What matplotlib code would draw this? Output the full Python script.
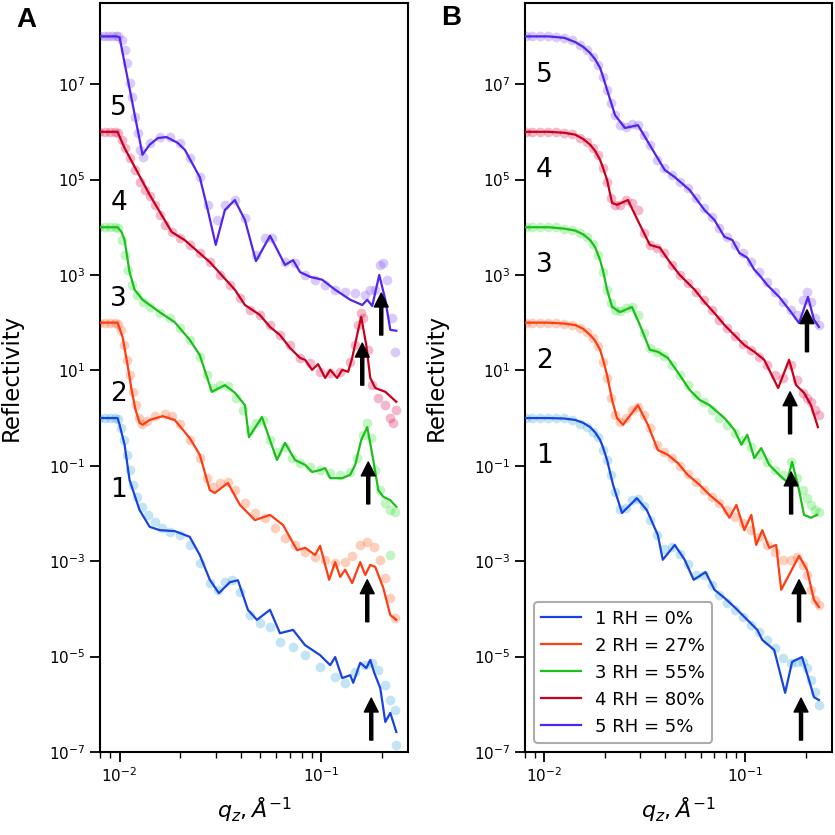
import numpy as np
import matplotlib
matplotlib.use('Agg')
import matplotlib.pyplot as plt
from matplotlib.ticker import NullLocator, NullFormatter

# Reflectivity curves, stored as log10(R) before the vertical offsets.
# Curves 1..5 are shifted by 10^0, 10^2, 10^4, 10^6, 10^8.
OFFSETS = [1e0, 1e2, 1e4, 1e6, 1e8]
LABELS = ['1 RH = 0%', '2 RH = 27%', '3 RH = 55%', '4 RH = 80%', '5 RH = 5%']
LINE_COLORS = ['#1744e0', '#ff3c12', '#1cbf1c', '#c8001c', '#5224ee']
DATA_COLORS = ['#45aee0', '#ff6a35', '#3fe03f', '#e2205e', '#8a5cf2']

# ---------------- panel A: measured data ----------------
A1_q = [0.00795, 0.00842, 0.00892, 0.00944, 0.00977, 0.01012, 0.01047, 0.01083, 0.01121, 0.01161,
        0.01215, 0.01287, 0.01378, 0.01493, 0.01618, 0.01773, 0.01988, 0.02229, 0.0250, 0.02804,
        0.03074, 0.03331, 0.03608, 0.03954, 0.04435, 0.04970, 0.05576, 0.06251, 0.07256, 0.08325,
        0.09886, 0.1174, 0.1316, 0.1476, 0.1655, 0.1793, 0.1921, 0.2082, 0.2204, 0.2334, 0.2361]
A1_r = [0, 0, 0, 0, -0.02, -0.21, -0.46, -0.77, -1.09, -1.40,
        -1.65, -1.86, -2.03, -2.18, -2.30, -2.39, -2.45, -2.66, -3.04, -3.46,
        -3.60, -3.44, -3.39, -3.65, -4.13, -4.30, -4.38, -4.69, -4.80, -4.97,
        -5.22, -5.43, -5.55, -5.32, -5.18, -5.13, -5.28, -5.60, -5.91, -6.12, -6.85]

A2_q = [0.00795, 0.00842, 0.00892, 0.00944, 0.00977, 0.01012, 0.01047, 0.01083, 0.01121, 0.01161,
        0.01201, 0.01243, 0.01287, 0.01362, 0.01493, 0.01674, 0.01814, 0.01988, 0.02229, 0.0250,
        0.0271, 0.0290, 0.03145, 0.03446, 0.03733, 0.04187, 0.04694, 0.0527, 0.0590, 0.0662,
        0.07424, 0.08325, 0.09336, 0.1047, 0.1174, 0.1316, 0.1426, 0.1563, 0.1694, 0.1835,
        0.1965, 0.2082, 0.2204, 0.2334]
A2_r = [0, 0, 0, 0, -0.03, -0.15, -0.47, -0.78, -1.10, -1.45,
        -1.73, -2.00, -2.12, -2.06, -1.96, -1.91, -1.96, -2.12, -2.46, -2.84,
        -3.26, -3.44, -3.36, -3.34, -3.51, -3.78, -3.99, -4.09, -4.30, -4.51,
        -4.66, -4.81, -4.91, -4.97, -5.04, -5.02, -4.89, -4.66, -4.60, -4.70,
        -4.97, -5.35, -5.77, -6.19]

A3_q = [0.00795, 0.00842, 0.00892, 0.00944, 0.00977, 0.01023, 0.01059, 0.01096, 0.01147, 0.01215,
        0.01301, 0.01410, 0.01581, 0.01773, 0.01988, 0.02229, 0.0250, 0.0271, 0.0290, 0.03145,
        0.03446, 0.03777, 0.0409, 0.04435, 0.04749, 0.0514, 0.05576, 0.06040, 0.0662, 0.0717,
        0.07861, 0.08817, 0.09886, 0.1109, 0.1243, 0.1394, 0.1510, 0.1618, 0.1694, 0.1773,
        0.1856, 0.1965, 0.2082, 0.2204, 0.2334, 0.2204]
A3_r = [0, 0, 0, 0, -0.02, -0.27, -0.58, -0.90, -1.21, -1.42,
        -1.57, -1.67, -1.80, -1.90, -2.11, -2.36, -2.72, -3.10, -3.37, -3.31,
        -3.33, -3.58, -3.83, -4.25, -4.10, -4.04, -4.46, -4.71, -4.61, -4.84,
        -4.94, -5.03, -5.09, -5.15, -5.19, -5.13, -4.84, -4.35, -4.10, -4.42,
        -5.09, -5.51, -5.78, -5.93, -5.97, -6.87]

A4_q = [0.00795, 0.00842, 0.00892, 0.00944, 0.00977, 0.01023, 0.01059, 0.01121, 0.01187, 0.01257,
        0.01332, 0.01410, 0.01493, 0.01581, 0.01674, 0.01814, 0.01988, 0.02229, 0.0250, 0.02804,
        0.03145, 0.03527, 0.03954, 0.04435, 0.04970, 0.05576, 0.06251, 0.07010, 0.07861, 0.08817,
        0.09886, 0.1109, 0.1243, 0.1394, 0.1476, 0.1528, 0.1581, 0.1618, 0.1713, 0.1793,
        0.1921, 0.2082, 0.2204, 0.2282, 0.2361]
A4_r = [0, 0, 0, 0, -0.02, -0.17, -0.34, -0.55, -0.80, -1.05,
        -1.22, -1.34, -1.53, -1.74, -1.95, -2.10, -2.22, -2.37, -2.54, -2.73,
        -3.00, -3.21, -3.48, -3.73, -3.84, -4.05, -4.26, -4.47, -4.74, -4.84,
        -5.03, -5.05, -5.03, -4.82, -4.47, -4.05, -3.80, -3.90, -4.57, -5.31,
        -5.58, -5.73, -6.00, -6.10, -5.83]

A5_q = [0.00795, 0.00833, 0.00872, 0.00912, 0.00955, 0.00977, 0.01023, 0.01059, 0.01083, 0.01121,
        0.01147, 0.01187, 0.01229, 0.01257, 0.01301, 0.01410, 0.01581, 0.01773, 0.01988, 0.02229,
        0.0250, 0.0274, 0.0304, 0.0333, 0.0373, 0.0419, 0.0475, 0.0527, 0.0571, 0.0662,
        0.0742, 0.0833, 0.0934, 0.1047, 0.1174, 0.1316, 0.1476, 0.1655, 0.1753, 0.1856,
        0.1965, 0.2034, 0.2130, 0.2255, 0.2334]
A5_r = [0, 0, 0, 0, 0, 0, -0.07, -0.28, -0.56, -0.97,
        -1.27, -1.69, -2.02, -2.38, -2.53, -2.23, -2.11, -2.11, -2.23, -2.55,
        -2.95, -3.53, -3.85, -3.53, -3.43, -3.81, -4.58, -4.22, -4.22, -4.73,
        -4.75, -5.00, -5.10, -5.21, -5.31, -5.36, -5.38, -5.42, -5.31, -5.31,
        -4.79, -4.75, -5.10, -5.90, -6.61]

# ---------------- panel A: model fits ----------------
A1_fit_q = [0.00795, 0.00977, 0.0100, 0.01059, 0.01121, 0.01257, 0.01410, 0.01581, 0.01877, 0.02229,
            0.0250, 0.02804, 0.03109, 0.03527, 0.03865, 0.04333, 0.04804, 0.05576, 0.06251, 0.07256,
            0.08325, 0.09886, 0.1109, 0.1174, 0.1272, 0.1394, 0.1443, 0.1563, 0.1675, 0.1753,
            0.1835, 0.1965, 0.2082, 0.2204, 0.2361]
A1_fit_r = [0, 0, -0.14, -0.56, -1.30, -1.93, -2.28, -2.35, -2.37, -2.49,
            -2.87, -3.39, -3.67, -3.44, -3.40, -4.02, -4.23, -4.02, -4.51, -4.44,
            -4.76, -4.97, -5.18, -5.01, -5.45, -5.39, -5.55, -5.13, -5.24, -5.07,
            -5.34, -5.66, -6.37, -6.18, -6.58]

A2_fit_q = [0.00795, 0.00977, 0.01035, 0.01096, 0.01147, 0.01201, 0.01257, 0.01301, 0.01410, 0.01636,
            0.01877, 0.02229, 0.0250, 0.02804, 0.0297, 0.03446, 0.03954, 0.04694, 0.05576, 0.06469,
            0.07597, 0.08325, 0.09336, 0.09886, 0.1096, 0.1174, 0.1243, 0.1316, 0.1426, 0.1563,
            0.1655, 0.1753, 0.1856, 0.2034, 0.2204, 0.2361]
A2_fit_r = [0, 0, -0.30, -0.89, -1.41, -1.83, -2.10, -2.14, -2.04, -1.96,
            -2.04, -2.42, -2.77, -3.51, -3.57, -3.36, -3.82, -4.14, -4.03, -4.24,
            -4.77, -4.72, -4.87, -4.68, -5.39, -5.02, -5.33, -5.18, -5.46, -5.02,
            -5.29, -5.08, -5.12, -5.56, -6.13, -6.23]

A3_fit_q = [0.00795, 0.00977, 0.01023, 0.01059, 0.01121, 0.01187, 0.01301, 0.01581, 0.01877, 0.02229,
            0.0250, 0.02869, 0.03331, 0.03733, 0.04187, 0.04384, 0.05086, 0.06040, 0.0662, 0.07424,
            0.08325, 0.0902, 0.09886, 0.1047, 0.1109, 0.1272, 0.1394, 0.1476, 0.1581, 0.1694,
            0.1814, 0.1921, 0.2034, 0.2204, 0.2361]
A3_fit_r = [0, 0, -0.10, -0.27, -0.94, -1.31, -1.52, -1.78, -1.99, -2.36,
            -2.68, -3.45, -3.31, -3.47, -3.73, -4.40, -3.98, -4.88, -4.52, -4.88,
            -4.98, -5.13, -5.09, -5.05, -5.26, -5.26, -5.19, -4.98, -4.46, -4.19,
            -4.88, -5.51, -5.65, -5.72, -5.86]

A4_fit_q = [0.00795, 0.00977, 0.01059, 0.01410, 0.01814, 0.02105, 0.02804, 0.03733, 0.04187, 0.04970,
            0.05576, 0.06251, 0.07010, 0.07861, 0.08325, 0.0902, 0.0966, 0.1047, 0.1109, 0.1201,
            0.1272, 0.1362, 0.1426, 0.1528, 0.1581, 0.1675, 0.1753, 0.1856, 0.2082, 0.2361]
A4_fit_r = [0, 0, -0.34, -1.32, -2.10, -2.27, -2.73, -3.31, -3.63, -3.84,
            -4.09, -4.26, -4.53, -4.74, -4.78, -4.99, -4.87, -5.16, -4.99, -5.16,
            -4.99, -5.03, -4.74, -4.15, -3.88, -4.47, -5.16, -5.37, -5.45, -5.66]

A5_fit_q = [0.00795, 0.0097, 0.0100, 0.0130, 0.0141, 0.0155, 0.0171, 0.0194, 0.0211, 0.0250,
            0.0274, 0.0300, 0.0333, 0.0373, 0.0419, 0.0475, 0.0558, 0.0662, 0.0726, 0.0786,
            0.0882, 0.1012, 0.1174, 0.1394, 0.1600, 0.1694, 0.1793, 0.1943, 0.2082, 0.2204, 0.2361]
A5_fit_r = [0, 0, -0.02, -2.48, -2.27, -2.13, -2.11, -2.23, -2.38, -2.95,
            -3.64, -4.37, -3.64, -3.43, -3.85, -4.71, -4.18, -4.79, -4.69, -4.94,
            -5.04, -5.10, -5.31, -5.52, -5.63, -5.52, -5.65, -5.00, -5.52, -6.15, -6.17]

# ---------------- panel B: measured data (common q grid) ----------------
B_q = [0.00805, 0.00872, 0.00955, 0.01047, 0.01147, 0.01256, 0.01375, 0.01508, 0.01633, 0.01748,
       0.01851, 0.01959, 0.0205, 0.02147, 0.02246, 0.02378, 0.02546, 0.02726, 0.0292, 0.03126,
       0.03348, 0.03625, 0.03926, 0.04302, 0.04714, 0.05163, 0.05655, 0.06194, 0.06787, 0.07435,
       0.08144, 0.08924, 0.09775, 0.1071, 0.1173, 0.1285, 0.1408, 0.1542, 0.1690, 0.1809,
       0.1937, 0.2027, 0.2122, 0.2221, 0.2324]
B1_r = [0, 0, 0, 0, 0, 0, -0.04, -0.12, -0.19, -0.29,
        -0.40, -0.67, -0.88, -1.19, -1.55, -1.90, -1.88, -1.72, -1.70, -1.85,
        -2.14, -2.45, -2.75, -2.70, -2.85, -3.05, -3.30, -3.30, -3.50, -3.70,
        -3.88, -4.02, -4.17, -4.34, -4.48, -4.65, -4.82, -5.03, -5.13, -5.11,
        -5.11, -5.24, -5.49, -5.74, -6.01]
B2_r = [0, 0, 0, 0, 0, -0.03, -0.05, -0.11, -0.19, -0.32,
        -0.49, -0.82, -1.16, -1.58, -1.93, -2.08, -2.00, -1.83, -1.77, -1.93,
        -2.21, -2.56, -2.71, -2.84, -3.00, -3.17, -3.34, -3.51, -3.65, -3.78,
        -3.93, -4.07, -4.20, -4.35, -4.49, -4.66, -4.81, -4.97, -4.97, -4.91,
        -5.08, -5.29, -5.60, -5.81, -5.92]
B3_r = [0, 0, 0, 0, 0, -0.04, -0.06, -0.12, -0.20, -0.35,
        -0.58, -0.94, -1.31, -1.59, -1.73, -1.75, -1.69, -1.67, -1.84, -2.22,
        -2.53, -2.61, -2.70, -2.89, -3.10, -3.31, -3.52, -3.66, -3.83, -4.00,
        -4.14, -4.31, -4.46, -4.61, -4.77, -4.92, -5.09, -5.19, -4.92, -5.26,
        -5.51, -5.68, -5.82, -5.93, -5.97]
B4_r = [0, 0, 0, 0, 0, -0.02, -0.04, -0.13, -0.21, -0.34,
        -0.48, -0.76, -1.05, -1.39, -1.53, -1.53, -1.43, -1.49, -1.64, -2.12,
        -2.37, -2.43, -2.54, -2.79, -3.00, -3.17, -3.36, -3.52, -3.73, -3.94,
        -4.11, -4.28, -4.45, -4.57, -4.72, -4.89, -5.10, -5.16, -4.89, -5.20,
        -5.47, -5.58, -5.66, -5.83, -5.93]
B5_r = [0, 0, 0, 0, -0.01, -0.03, -0.07, -0.18, -0.28, -0.43,
        -0.60, -0.85, -1.12, -1.39, -1.65, -1.86, -1.90, -1.84, -1.86, -2.07,
        -2.28, -2.59, -2.76, -2.90, -3.05, -3.18, -3.39, -3.60, -3.78, -4.01,
        -4.20, -4.37, -4.54, -4.73, -4.94, -5.15, -5.36, -5.57, -5.73, -5.84,
        -5.52, -5.36, -5.57, -5.90, -6.05]

# ---------------- panel B: model fits ----------------
B1_fit_q = [0.00805, 0.01047, 0.01256, 0.01424, 0.0156, 0.01689, 0.01788, 0.01893, 0.01959, 0.0205,
            0.02196, 0.02433, 0.02886, 0.03235, 0.03667, 0.03882, 0.04453, 0.04989, 0.0553, 0.06339,
            0.07022, 0.0787, 0.08823, 0.1023, 0.1147, 0.1214, 0.1392, 0.1578, 0.1709, 0.1915,
            0.2074, 0.2196, 0.2324]
B1_fit_r = [0, 0, -0.01, -0.04, -0.10, -0.19, -0.30, -0.46, -0.62, -0.88,
            -1.40, -1.99, -1.68, -1.93, -2.45, -2.97, -2.66, -2.97, -3.39, -3.23,
            -3.60, -3.77, -3.96, -4.23, -4.44, -4.65, -4.86, -5.76, -5.11, -5.01,
            -5.49, -5.85, -5.91]

B2_fit_q = [0.00805, 0.01047, 0.01256, 0.01424, 0.0156, 0.01689, 0.01788, 0.01893, 0.01959, 0.0205,
            0.02171, 0.02298, 0.0246, 0.0292, 0.03272, 0.03667, 0.04111, 0.04607, 0.05163, 0.0592,
            0.06633, 0.07608, 0.08332, 0.09026, 0.09886, 0.1071, 0.1133, 0.1214, 0.1315, 0.1424,
            0.1508, 0.1851, 0.2027, 0.2196, 0.2324]
B2_fit_r = [0, 0, -0.02, -0.05, -0.13, -0.26, -0.38, -0.57, -0.78, -1.10,
            -1.62, -2.00, -2.14, -1.73, -2.14, -2.67, -2.77, -2.94, -3.19, -3.40,
            -3.61, -3.82, -4.09, -3.82, -4.35, -4.03, -4.66, -4.35, -4.72, -4.66,
            -5.60, -4.89, -5.18, -5.81, -5.96]

B3_fit_q = [0.00805, 0.01047, 0.01256, 0.01424, 0.0156, 0.01689, 0.01788, 0.01893, 0.01959, 0.0205,
            0.02171, 0.02378, 0.02726, 0.02987, 0.03348, 0.03667, 0.04111, 0.04714, 0.05282, 0.0592,
            0.06633, 0.0787, 0.08823, 0.09555, 0.1023, 0.1108, 0.1200, 0.1315, 0.1473, 0.1614,
            0.1709, 0.1851, 0.1959, 0.2122, 0.2273]
B3_fit_r = [0, 0, -0.03, -0.07, -0.15, -0.27, -0.42, -0.69, -0.92, -1.31,
            -1.67, -1.78, -1.67, -2.05, -2.57, -2.61, -2.74, -3.10, -3.41, -3.62,
            -3.73, -4.00, -4.25, -4.56, -4.35, -4.84, -4.63, -4.98, -5.19, -5.34,
            -4.92, -5.51, -6.03, -6.09, -6.03]

B4_fit_q = [0.00805, 0.01047, 0.01256, 0.01424, 0.0156, 0.01689, 0.01788, 0.01893, 0.01959, 0.0205,
            0.02171, 0.02298, 0.02604, 0.02987, 0.03348, 0.03752, 0.04206, 0.04714, 0.05591, 0.06266,
            0.07022, 0.0787, 0.08823, 0.09886, 0.1108, 0.1242, 0.1457, 0.1651, 0.1789, 0.1959,
            0.2122, 0.2298]
B4_fit_r = [0, 0, -0.02, -0.06, -0.15, -0.27, -0.40, -0.59, -0.76, -1.01,
            -1.49, -1.53, -1.43, -1.95, -2.37, -2.43, -2.73, -3.00, -3.31, -3.57,
            -3.80, -4.05, -4.26, -4.47, -4.61, -4.78, -5.37, -4.78, -5.31, -5.47,
            -5.73, -6.19]

B5_fit_q = [0.00805, 0.01047, 0.01256, 0.01424, 0.0156, 0.01689, 0.01788, 0.01893, 0.01959, 0.0205,
            0.02246, 0.02518, 0.0292, 0.03348, 0.03972, 0.04453, 0.05282, 0.06266, 0.07022, 0.0787,
            0.08624, 0.09339, 0.1023, 0.1108, 0.1173, 0.1285, 0.1473, 0.1690, 0.1851, 0.2051,
            0.2196, 0.2324]
B5_fit_r = [0, 0, -0.03, -0.12, -0.22, -0.35, -0.48, -0.66, -0.85, -1.12,
            -1.65, -1.92, -1.86, -2.28, -2.80, -2.95, -3.22, -3.64, -3.85, -4.20,
            -4.27, -4.54, -4.64, -4.89, -5.00, -5.21, -5.46, -5.78, -6.01, -5.46,
            -5.94, -6.09]

# arrows marking the Bragg peak (q position, log10 R of the tip, before offset)
A_arrow_q = [0.1773, 0.1694, 0.1713, 0.1600, 0.1988]
A_arrow_tip = [-5.87, -5.39, -4.92, -4.43, -5.38]
B_arrow_q = [0.1893, 0.1851, 0.1690, 0.1670, 0.2027]
B_arrow_tip = [-5.87, -5.39, -5.13, -5.45, -5.73]

A_data = [(A1_q, A1_r), (A2_q, A2_r), (A3_q, A3_r), (A4_q, A4_r), (A5_q, A5_r)]
A_fits = [(A1_fit_q, A1_fit_r), (A2_fit_q, A2_fit_r), (A3_fit_q, A3_fit_r),
          (A4_fit_q, A4_fit_r), (A5_fit_q, A5_fit_r)]
B_data = [(B_q, B1_r), (B_q, B2_r), (B_q, B3_r), (B_q, B4_r), (B_q, B5_r)]
B_fits = [(B1_fit_q, B1_fit_r), (B2_fit_q, B2_fit_r), (B3_fit_q, B3_fit_r),
          (B4_fit_q, B4_fit_r), (B5_fit_q, B5_fit_r)]


def draw_panel(ax, data, fits, arrow_q, arrow_tip, label_q, label_shift):
    for i in range(5):
        q, r = data[i]
        ax.plot(q, OFFSETS[i] * 10.0 ** np.array(r), 'o', color=DATA_COLORS[i],
                alpha=0.32, ms=7, mec='none', zorder=2)
    for i in range(5):
        q, r = fits[i]
        ax.plot(q, OFFSETS[i] * 10.0 ** np.array(r), '-', color=LINE_COLORS[i],
                lw=1.6, label=LABELS[i], zorder=3)
        # curve number
        ax.text(label_q, OFFSETS[i] * 10 ** label_shift, str(i + 1), fontsize=19,
                ha='center', va='center')
        # Bragg peak arrow
        tip = OFFSETS[i] * 10 ** arrow_tip[i]
        ax.annotate('', xy=(arrow_q[i], tip), xytext=(arrow_q[i], tip / 10 ** 0.88),
                    arrowprops=dict(facecolor='black', edgecolor='black', width=2.2,
                                    headwidth=10, headlength=10), zorder=4)

    ax.set_xscale('log')
    ax.set_yscale('log')
    ax.set_xlim(0.008, 0.27)
    ax.set_ylim(1e-7, 10 ** 8.7)
    ax.set_yticks(10.0 ** np.arange(-7, 8, 2))
    ax.yaxis.set_minor_locator(NullLocator())
    ax.xaxis.set_minor_formatter(NullFormatter())
    ax.tick_params(which='major', length=7, width=1.3, labelsize=11)
    ax.tick_params(which='minor', length=4, width=1.0)
    for s in ax.spines.values():
        s.set_linewidth(1.5)
    ax.set_xlabel(r'$q_z, \AA^{-1}$', fontsize=16)
    ax.set_ylabel('Reflectivity', fontsize=16.5)
    ax.yaxis.set_label_coords(-0.25, 0.5)
    ax.xaxis.set_label_coords(0.5, -0.058)


fig = plt.figure(figsize=(8.35, 8.35), dpi=100)
axA = fig.add_axes([0.1198, 0.0994, 0.3689, 0.8970])
axB = fig.add_axes([0.6287, 0.0994, 0.3677, 0.8970])

draw_panel(axA, A_data, A_fits, A_arrow_q, A_arrow_tip, 0.0099, -1.5)
draw_panel(axB, B_data, B_fits, B_arrow_q, B_arrow_tip, 0.0100, -0.8)

leg = axB.legend(loc='lower left', fontsize=13, handlelength=2.2, framealpha=0.8)
leg.get_frame().set_edgecolor('0.6')
leg.get_frame().set_linewidth(1.5)

fig.text(0.031, 0.976, 'A', fontsize=20, fontweight='bold', family='Liberation Sans',
         ha='center', va='center')
fig.text(0.540, 0.978, 'B', fontsize=20, fontweight='bold', family='Liberation Sans',
         ha='center', va='center')

fig.savefig('out.png', dpi=100)
